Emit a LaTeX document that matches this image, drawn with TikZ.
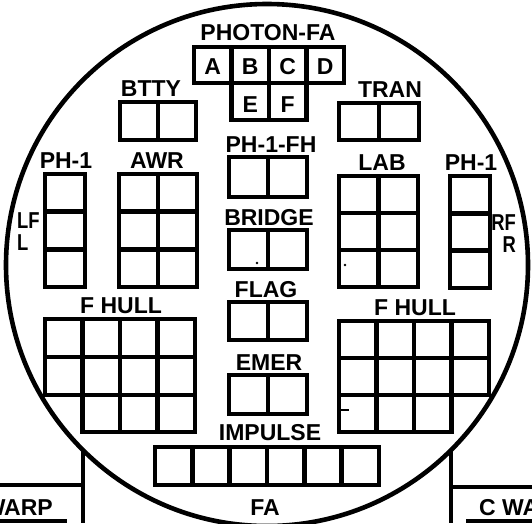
\documentclass[tikz,border=0pt]{standalone}
\usepackage{fontspec}
\setmainfont{Liberation Sans}
\newcommand\cellgrid[6]{% x0, y0, cell w, cell h, cols, rows
  \foreach \ci in {1,...,#5}{\foreach \cj in {1,...,#6}{%
    \draw[box] ({#1+(\ci-1)*#3},{#2+(\cj-1)*#4}) rectangle ++(#3,#4);}}}
\newcommand\narrow[1]{\scalebox{0.8}[1]{#1}}
\begin{document}
\begin{tikzpicture}[x=1pt,y=-1pt,
  box/.style={line width=4.6pt, line join=miter},
  rim/.style={line width=4.6pt},
  rule/.style={line width=4pt},
  lbl/.style={inner sep=0pt, anchor=base, font=\fontsize{23}{23}\selectfont\bfseries}]
\useasboundingbox (0,0) rectangle (532,523);
\clip (0,0) rectangle (532,523);
% outer circle
\draw[rim] (267,265) circle (261pt);
% bottom frame lines
\coordinate (lt) at (83,450); \coordinate (lb) at (83,523);
\coordinate (rt) at (451,450); \coordinate (rb) at (451,523);
\coordinate (lh0) at (0,485); \coordinate (lh1) at (83,485);
\coordinate (rh0) at (451,487); \coordinate (rh1) at (532,487);
\coordinate (lu0) at (0,521); \coordinate (lu1) at (67,521);
\coordinate (ru0) at (466,521); \coordinate (ru1) at (532,521);
\draw[rule] (lt) -- (lb);
\draw[rule] (rt) -- (rb);
\draw[rule] (lh0) -- (lh1);
\draw[rule] (rh0) -- (rh1);
\draw[rule] (lu0) -- (lu1);
\draw[rule] (ru0) -- (ru1);
% PHOTON-FA
\node[lbl] (tphoton) at (268,40) {PHOTON-FA};
\cellgrid{194}{47}{37.5}{36}{4}{1}
\cellgrid{231.5}{83}{37.5}{37}{2}{1}
\node[lbl] (ca) at (212.75,74) {A};
\node[lbl] (cb) at (250.25,74) {B};
\node[lbl] (cc) at (287.75,74) {C};
\node[lbl] (cd) at (325.25,74) {D};
\node[lbl] (ce) at (250.25,112) {E};
\node[lbl] (cf) at (287.75,112) {F};
% BTTY / TRAN
\node[lbl] (tbtty) at (151,96) {BTTY};
\cellgrid{120}{102}{38}{38}{2}{1}
\node[lbl] (ttran) at (390,97) {TRAN};
\cellgrid{339}{103}{40}{37}{2}{1}
% centre column
\node[lbl] (tphfh) at (271,152) {PH-1-FH};
\cellgrid{229}{157}{39}{40}{2}{1}
\node[lbl] (tbridge) at (269,225) {BRIDGE};
\cellgrid{229}{230}{39}{39}{2}{1}
\node[lbl] (tflag) at (266,297) {FLAG};
\cellgrid{229}{302}{39}{38}{2}{1}
\node[lbl] (temer) at (269,370) {EMER};
\cellgrid{229}{375}{39}{39}{2}{1}
\node[lbl] (timpulse) at (270,440) {IMPULSE};
\cellgrid{155}{447}{37.33}{38}{6}{1}
\node[lbl] (tfa) at (265,515) {FA};
% left side
\node[lbl] (tphl) at (66,168) {PH-1};
\cellgrid{45}{174}{40}{37.67}{1}{3}
\node[lbl, anchor=base west] (tlf) at (17,228) {\narrow{LF}};
\node[lbl, anchor=base west] (tl) at (17,250) {\narrow{L}};
\node[lbl] (tawr) at (157,168) {AWR};
\cellgrid{119}{174}{39}{37.67}{2}{3}
\node[lbl] (tfhl) at (121,313) {F HULL};
\cellgrid{45}{319}{37.5}{38}{4}{2}
\cellgrid{82.5}{395}{37.5}{37}{3}{1}
% right side
\node[lbl] (tlab) at (382,170) {LAB};
\cellgrid{339}{176}{39.5}{37}{2}{3}
\node[lbl] (tphr) at (471,170) {PH-1};
\cellgrid{450}{176}{40}{37.33}{1}{3}
\node[lbl, anchor=base east] (trf) at (516,230) {\narrow{RF}};
\node[lbl, anchor=base east] (tr) at (516,252) {\narrow{R}};
\node[lbl] (tfhr) at (415,315) {F HULL};
\cellgrid{339}{321}{37.5}{37}{4}{2}
\cellgrid{339}{395}{37.5}{37}{3}{1}
% bottom labels
\node[lbl, anchor=base east] (twarp) at (53,515) {WARP};
\node[lbl, anchor=base west] (tcwarp) at (479,515) {C WARP};
% small marks
\fill (345,265) circle (1.4pt);
\fill (257,263) circle (1.4pt);
\draw[line width=2.8pt] (338,410) -- (349,410);
\end{tikzpicture}
\end{document}
